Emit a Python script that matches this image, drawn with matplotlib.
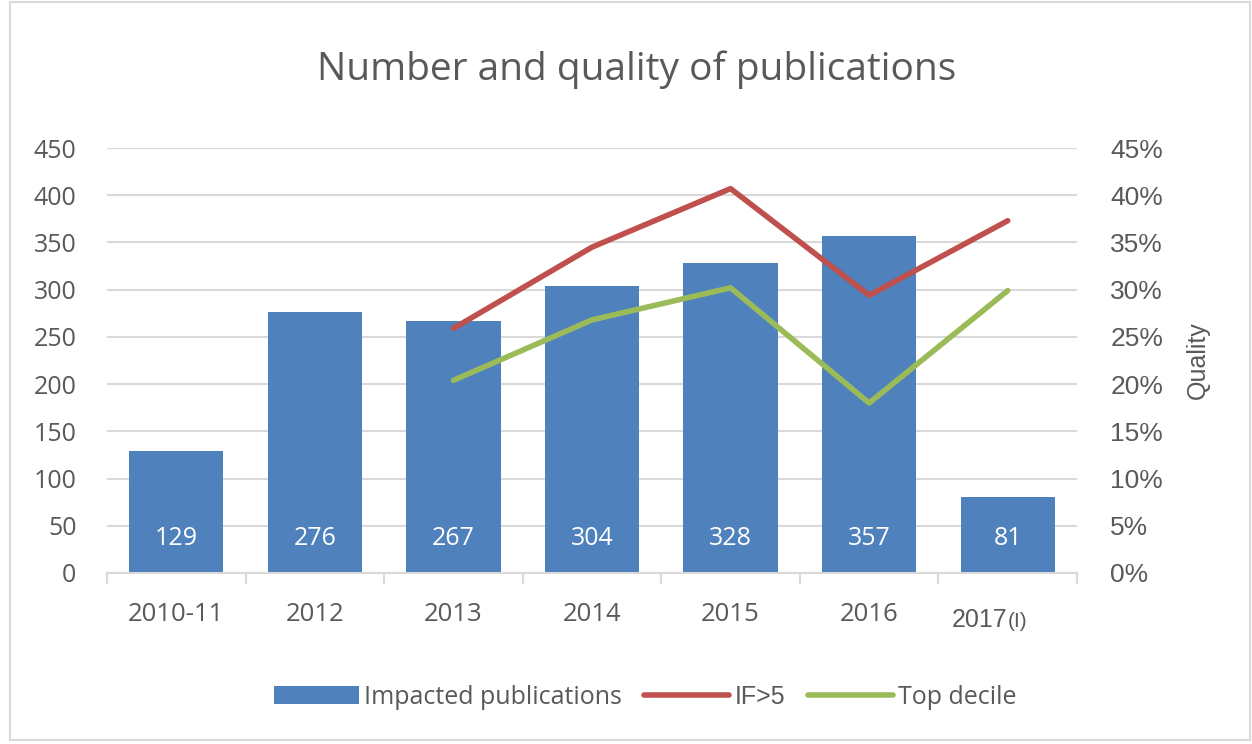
import matplotlib.pyplot as plt
from matplotlib.patches import Rectangle
from matplotlib.ticker import PercentFormatter

years = ['2010-11', '2012', '2013', '2014', '2015', '2016', '2017(I)']
publications = [129, 276, 267, 304, 328, 357, 81]
# quality series start in 2013
quality_years = ['2013', '2014', '2015', '2016', '2017(I)']
if_over_5 = [25.9, 34.5, 40.7, 29.4, 37.3]
top_decile = [20.4, 26.8, 30.2, 18.0, 29.9]

txt = '#595959'
grid = '#D9D9D9'
body = 'Open Sans'

fig = plt.figure(figsize=(12.52, 7.44), dpi=100)
ax = fig.add_axes([107/1252, 1 - 573/744, 970/1252, 425/744])
ax2 = ax.twinx()

x = list(range(len(years)))
ax.bar(x, publications, width=0.68, color='#4F81BD', zorder=2,
       label='Impacted publications')
for xi, v in zip(x, publications):
    ax.text(xi, 37, str(v), color='white', ha='center', va='center',
            fontsize=18, family=body, zorder=3)

qx = [years.index(y) for y in quality_years]
ax2.plot(qx, if_over_5, color='#C0504D', lw=4, label='IF>5', solid_capstyle='round')
ax2.plot(qx, top_decile, color='#9BBB59', lw=4, label='Top decile', solid_capstyle='round')

ax.set_xlim(-0.5, len(years) - 0.5)
ax.set_ylim(0, 450)
ax.set_yticks(range(0, 451, 50))
ax2.set_ylim(0, 45)
ax2.set_yticks(range(0, 46, 5))
ax2.yaxis.set_major_formatter(PercentFormatter(decimals=0))

ax.yaxis.grid(True, color=grid, lw=1.5, zorder=0)
ax.set_axisbelow(True)
for a in (ax, ax2):
    for s in a.spines.values():
        s.set_visible(False)
ax.spines['bottom'].set_visible(True)
ax.spines['bottom'].set_color(grid)
ax.spines['bottom'].set_linewidth(1.5)

# category boundary ticks
ax.set_xticks([i - 0.5 for i in range(len(years) + 1)])
ax.set_xticklabels([])
ax.tick_params(axis='x', which='major', length=8, color=grid, width=1.5)
ax.set_xticks(x, minor=True)
ax.set_xticklabels(years[:-1] + [''], minor=True, fontsize=18.5, color=txt, family=body)
ax.tick_params(axis='x', which='minor', length=0, pad=21)
ax.text(x[-1], -50, '2017', ha='right', va='center', fontsize=18, color=txt,
        family='Liberation Sans')
ax.text(x[-1], -51, '(I)', ha='left', va='center', fontsize=15, color=txt,
        family='Liberation Sans')

ax.tick_params(axis='y', length=0, labelsize=18, labelcolor=txt, pad=22)
for lab in ax.get_yticklabels():
    lab.set_family(body)
ax2.tick_params(axis='y', length=0, labelsize=19, labelcolor=txt, pad=24)
for lab in ax2.get_yticklabels():
    lab.set_family('Liberation Sans')
ax2.set_ylabel('Quality', fontsize=18, color=txt, family='Liberation Sans', labelpad=16)

fig.text(637/1252, 1 - 70/744, 'Number and quality of publications', ha='center', va='center',
         fontsize=28, color=txt, family=body)

h1, l1 = ax.get_legend_handles_labels()
h2, l2 = ax2.get_legend_handles_labels()
leg = fig.legend(h1 + h2, l1 + l2, loc='center', bbox_to_anchor=(645/1252, 1 - 697/744),
                 ncol=3, frameon=False, handlelength=3.4, columnspacing=0.9,
                 handletextpad=0.2, labelcolor=txt, prop={'family': body, 'size': 18})
leg.get_texts()[1].set_family('Liberation Sans')

fig.patches.append(Rectangle((10/1252, 4/744), 1240/1252, 738/744, transform=fig.transFigure,
                             fill=False, edgecolor=grid, lw=1.5))

fig.savefig('out.png', dpi=100)
